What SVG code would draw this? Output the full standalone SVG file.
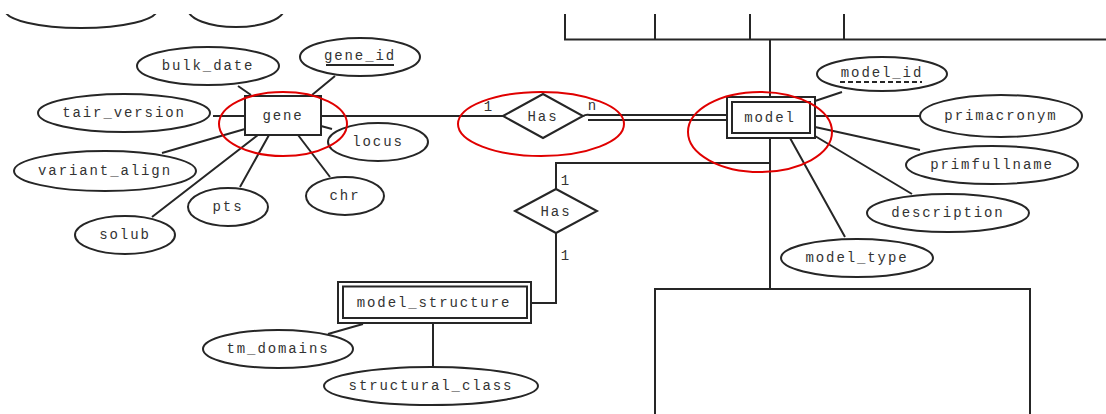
<svg xmlns="http://www.w3.org/2000/svg" width="1106" height="414" viewBox="0 0 1106 414">
<defs>
<style>
.ln{stroke:#262626;stroke-width:2;fill:none}
.ell{stroke:#262626;stroke-width:2;fill:#fff}
.box{stroke:#262626;stroke-width:2;fill:#fff}
.t{font-family:"Liberation Mono","DejaVu Sans Mono",monospace;font-size:14px;letter-spacing:1.9px;fill:#333;text-anchor:middle;dominant-baseline:central}
.red{stroke:#e00000;stroke-width:2;fill:none}
</style>
<clipPath id="topclip"><rect x="0" y="14" width="1106" height="400"/></clipPath>
</defs>
<rect width="1106" height="414" fill="#fff"/>
<g id="connectors">
<g clip-path="url(#topclip)">
<path class="ln" d="M565 0V39.5H1106M655 0V39.5M750 0V39.5M844 0V39.5"/>
</g>
<path class="ln" d="M770 39.5V97M770 138V289"/>
<path class="ln" d="M655 414V289H1030V414"/>
<path class="ln" d="M321 116H503"/>
<path class="ln" d="M583 116C586 114 588 114.5 590 115H727M588 120H727"/>
<path class="ln" d="M556 189V163H770"/>
<path class="ln" d="M556 233V303H531"/>
<path class="ln" d="M251 95L238 86M312 95L335 76M213 116H245M321 126L332 129M245 129L162 153M258 135L152 217M269 135L240 187M298 135L330 177"/>
<path class="ln" d="M815 101L842 92M815 116H920M815 127L920 150M815 136L912 194M790 138L845 237"/>
<path class="ln" d="M363 324L328 334M433 323V367"/>
</g>
<g id="top-partial" clip-path="url(#topclip)">
<ellipse class="ell" cx="81" cy="10" rx="76" ry="18"/>
<ellipse class="ell" cx="236" cy="9" rx="48" ry="18"/>
</g>
<g id="gene">
<rect class="box" x="245" y="96" width="76" height="39"/>
<text class="t" x="283" y="116">gene</text>
</g>
<g id="bulk_date"><ellipse class="ell" cx="208" cy="66" rx="71" ry="19"/><text class="t" x="208" y="66">bulk_date</text></g>
<g id="gene_id"><ellipse class="ell" cx="360" cy="57" rx="60" ry="19"/><text class="t" x="360" y="56">gene_id</text><path class="ln" d="M326 65H394" stroke-width="1.5"/></g>
<g id="tair_version"><ellipse class="ell" cx="124" cy="113" rx="86" ry="19"/><text class="t" x="124" y="113">tair_version</text></g>
<g id="locus"><ellipse class="ell" cx="378" cy="142" rx="50" ry="19"/><text class="t" x="378" y="142">locus</text></g>
<g id="variant_align"><ellipse class="ell" cx="105" cy="171" rx="91" ry="20"/><text class="t" x="105" y="171">variant_align</text></g>
<g id="solub"><ellipse class="ell" cx="125" cy="235" rx="50" ry="19"/><text class="t" x="125" y="235">solub</text></g>
<g id="pts"><ellipse class="ell" cx="228" cy="207" rx="40" ry="19"/><text class="t" x="228" y="207">pts</text></g>
<g id="chr"><ellipse class="ell" cx="345" cy="196" rx="39" ry="19"/><text class="t" x="345" y="196">chr</text></g>
<g id="has1">
<polygon class="box" points="503,116 543,94 583,116 543,138"/>
<text class="t" x="543" y="117">Has</text>
<text class="t" x="489" y="107">1</text>
<text class="t" x="593" y="106">n</text>
</g>
<g id="model">
<rect class="box" x="727" y="97" width="88" height="41"/>
<rect class="box" x="732" y="102" width="78" height="31"/>
<text class="t" x="770" y="118">model</text>
</g>
<g id="model_id"><ellipse class="ell" cx="882" cy="74" rx="65" ry="17"/><text class="t" x="882" y="73">model_id</text><path class="ln" d="M840 82H922" stroke-width="1.5" stroke-dasharray="5,3"/></g>
<g id="primacronym"><ellipse class="ell" cx="1001" cy="116" rx="81" ry="21"/><text class="t" x="1001" y="116">primacronym</text></g>
<g id="primfullname"><ellipse class="ell" cx="992" cy="165" rx="86" ry="19"/><text class="t" x="992" y="165">primfullname</text></g>
<g id="description"><ellipse class="ell" cx="948" cy="213" rx="81" ry="19"/><text class="t" x="948" y="213">description</text></g>
<g id="model_type"><ellipse class="ell" cx="857" cy="258" rx="76" ry="19"/><text class="t" x="857" y="258">model_type</text></g>
<g id="has2">
<polygon class="box" points="515,211 556,189 597,211 556,233"/>
<text class="t" x="556" y="212">Has</text>
<text class="t" x="566" y="181">1</text>
<text class="t" x="566" y="256">1</text>
</g>
<g id="model_structure">
<rect class="box" x="338" y="282" width="193" height="41"/>
<rect class="box" x="343" y="286.5" width="184" height="31.5"/>
<text class="t" x="434" y="303">model_structure</text>
</g>
<g id="tm_domains"><ellipse class="ell" cx="278" cy="349" rx="75" ry="19"/><text class="t" x="278" y="349">tm_domains</text></g>
<g id="structural_class"><ellipse class="ell" cx="431" cy="386" rx="107" ry="19"/><text class="t" x="431" y="386">structural_class</text></g>
<g id="highlights">
<ellipse class="red" cx="283" cy="124" rx="64" ry="32"/>
<ellipse class="red" cx="541" cy="124" rx="83" ry="32"/>
<ellipse class="red" cx="760" cy="132" rx="72" ry="40"/>
</g>
</svg>
